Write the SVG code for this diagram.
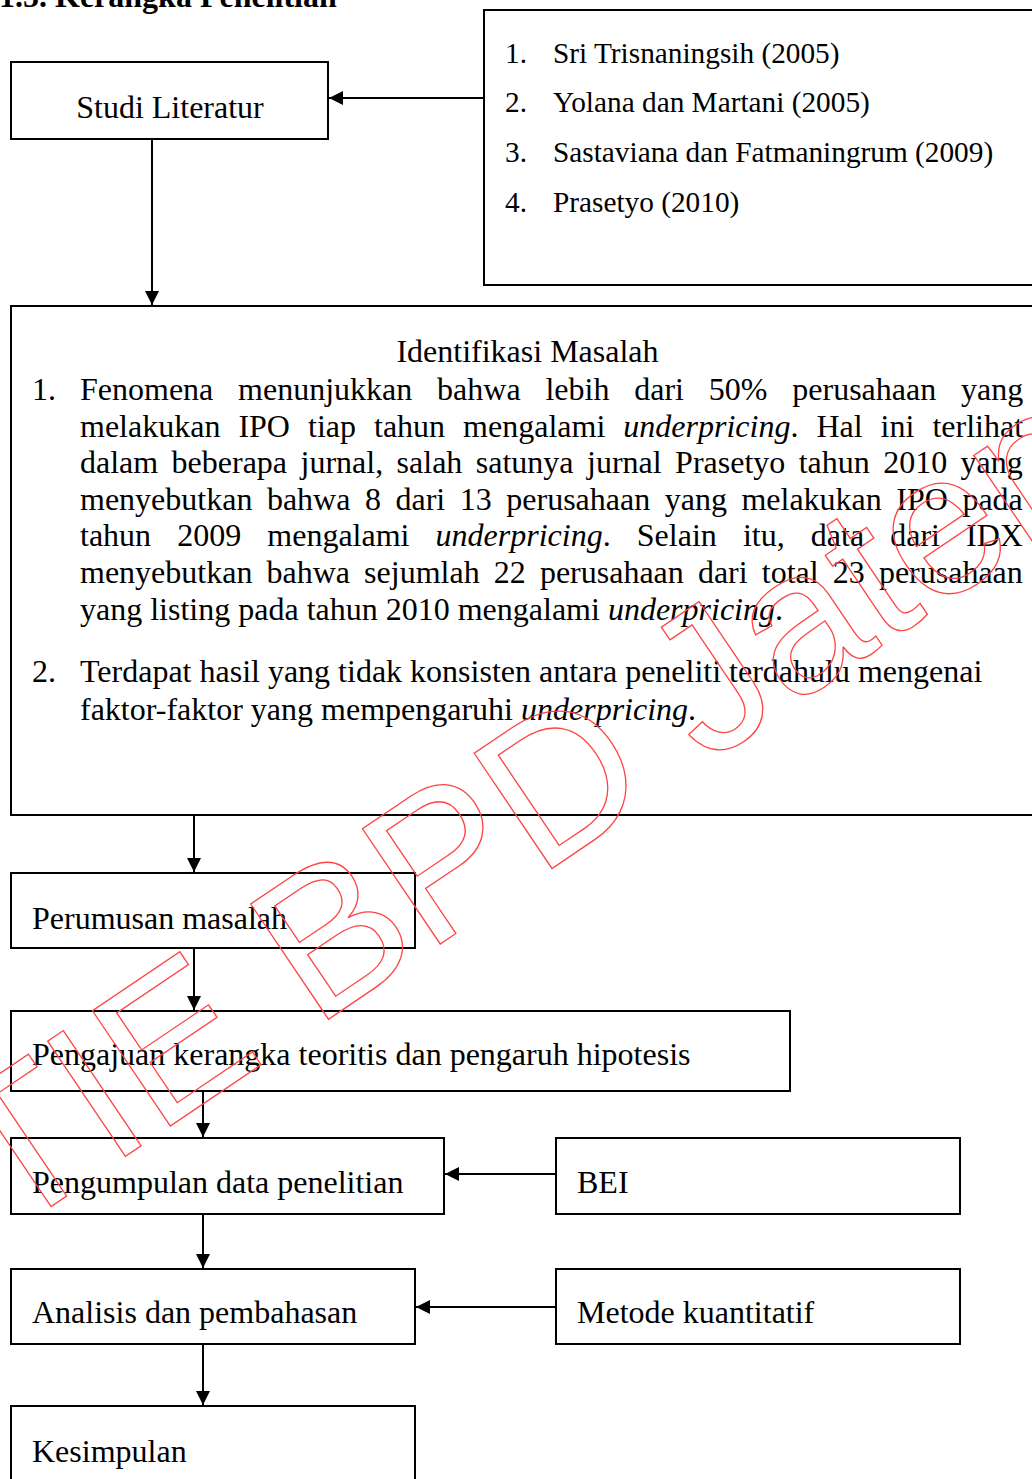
<svg xmlns="http://www.w3.org/2000/svg" width="1032" height="1479" viewBox="0 0 1032 1479">
<style>
.t{font-family:"Liberation Serif","Times New Roman",serif;font-size:32px;fill:#000}
.s{font-family:"Liberation Serif","Times New Roman",serif;font-size:29.3px;fill:#000}
.i{font-style:italic}
.box{fill:#fff;stroke:#000;stroke-width:2}
.c{fill:none;stroke:#000;stroke-width:2}
.wm{font-family:"Liberation Sans",Arial,sans-serif;font-size:202px;fill:none;stroke:#ff4444;stroke-width:1.3}
</style>
<defs>
<marker id="ah" markerUnits="userSpaceOnUse" markerWidth="14" markerHeight="14" viewBox="0 0 14 14" refX="14" refY="7" orient="auto">
<path d="M0,0 L14,7 L0,14 z" fill="#000"/>
</marker>
</defs>
<rect width="1032" height="1479" fill="#fff"/>
<text class="t" x="-1" y="7" font-weight="bold">1.5. Kerangka Penelitian</text>

<g id="studi-literatur">
<rect class="box" x="11" y="62" width="317" height="77"/>
<text class="t" x="170" y="118" text-anchor="middle">Studi Literatur</text>
</g>

<g id="referensi">
<rect class="box" x="484" y="10" width="600" height="275"/>
<text class="s" x="505" y="63">1.</text><text class="s" x="553" y="63">Sri Trisnaningsih (2005)</text>
<text class="s" x="505" y="112">2.</text><text class="s" x="553" y="112">Yolana dan Martani (2005)</text>
<text class="s" x="505" y="162">3.</text><text class="s" x="553" y="162">Sastaviana dan Fatmaningrum (2009)</text>
<text class="s" x="505" y="212">4.</text><text class="s" x="553" y="212">Prasetyo (2010)</text>
</g>

<g id="identifikasi-masalah">
<rect class="box" x="11" y="306" width="1080" height="509"/>
<text class="t" x="527.5" y="362" text-anchor="middle">Identifikasi Masalah</text>
<text class="t" x="32" y="400">1.</text>
<text class="t" y="400"><tspan x="80">Fenomena</tspan><tspan x="238.1">menunjukkan</tspan><tspan x="437.1">bahwa</tspan><tspan x="545.4">lebih</tspan><tspan x="634.2">dari</tspan><tspan x="708.8">50%</tspan><tspan x="792.3">perusahaan</tspan><tspan x="961">yang</tspan></text>
<text class="t" y="436.6"><tspan x="80">melakukan</tspan><tspan x="238.4">IPO</tspan><tspan x="308">tiap</tspan><tspan x="374">tahun</tspan><tspan x="463.1">mengalami</tspan><tspan x="623.3" class="i">underpricing</tspan><tspan>.</tspan><tspan x="816.4">Hal</tspan><tspan x="880.6">ini</tspan><tspan x="932.4">terlihat</tspan></text>
<text class="t" y="473.2"><tspan x="80">dalam</tspan><tspan x="171.6">beberapa</tspan><tspan x="300.5">jurnal,</tspan><tspan x="396.6">salah</tspan><tspan x="475.8">satunya</tspan><tspan x="587">jurnal</tspan><tspan x="675.1">Prasetyo</tspan><tspan x="798.7">tahun</tspan><tspan x="883.2">2010</tspan><tspan x="960.6">yang</tspan></text>
<text class="t" y="509.8"><tspan x="80">menyebutkan</tspan><tspan x="266.9">bahwa</tspan><tspan x="364.9">8</tspan><tspan x="395.5">dari</tspan><tspan x="459.8">13</tspan><tspan x="506.3">perusahaan</tspan><tspan x="664.7">yang</tspan><tspan x="741.4">melakukan</tspan><tspan x="896.3">IPO</tspan><tspan x="962.4">pada</tspan></text>
<text class="t" y="546.4"><tspan x="80">tahun</tspan><tspan x="177.2">2009</tspan><tspan x="267.3">mengalami</tspan><tspan x="435.6" class="i">underpricing</tspan><tspan>.</tspan><tspan x="636.8">Selain</tspan><tspan x="742.9">itu,</tspan><tspan x="810.8">data</tspan><tspan x="890.2">dari</tspan><tspan x="966.1">IDX</tspan></text>
<text class="t" y="583"><tspan x="80">menyebutkan</tspan><tspan x="266.5">bahwa</tspan><tspan x="364.1">sejumlah</tspan><tspan x="493.8">22</tspan><tspan x="539.9">perusahaan</tspan><tspan x="697.9">dari</tspan><tspan x="761.8">total</tspan><tspan x="832.8">23</tspan><tspan x="878.9">perusahaan</tspan></text>
<text class="t" x="80" y="619.6">yang listing pada tahun 2010 mengalami <tspan class="i">underpricing</tspan>.</text>
<text class="t" x="32" y="682">2.</text>
<text class="t" x="80" y="682">Terdapat hasil yang tidak konsisten antara peneliti terdahulu mengenai</text>
<text class="t" x="80" y="720">faktor-faktor yang mempengaruhi <tspan class="i">underpricing</tspan>.</text>
</g>

<g id="perumusan-masalah">
<rect class="box" x="11" y="873" width="404" height="75"/>
<text class="t" x="32" y="929">Perumusan masalah</text>
</g>

<g id="pengajuan-kerangka">
<rect class="box" x="11" y="1011" width="779" height="80"/>
<text class="t" x="32" y="1065">Pengajuan kerangka teoritis dan pengaruh hipotesis</text>
</g>

<g id="pengumpulan-data">
<rect class="box" x="11" y="1138" width="433" height="76"/>
<text class="t" x="32" y="1193">Pengumpulan data penelitian</text>
</g>

<g id="bei">
<rect class="box" x="556" y="1138" width="404" height="76"/>
<text class="t" x="577" y="1193">BEI</text>
</g>

<g id="analisis">
<rect class="box" x="11" y="1269" width="404" height="75"/>
<text class="t" x="32" y="1323">Analisis dan pembahasan</text>
</g>

<g id="metode">
<rect class="box" x="556" y="1269" width="404" height="75"/>
<text class="t" x="577" y="1323">Metode kuantitatif</text>
</g>

<g id="kesimpulan">
<rect class="box" x="11" y="1406" width="404" height="100"/>
<text class="t" x="32" y="1462">Kesimpulan</text>
</g>

<g id="connectors">
<path class="c" d="M484,98 H329" marker-end="url(#ah)"/>
<path class="c" d="M152,139 V305" marker-end="url(#ah)"/>
<path class="c" d="M194,815 V872" marker-end="url(#ah)"/>
<path class="c" d="M194,948 V1010" marker-end="url(#ah)"/>
<path class="c" d="M203,1091 V1137" marker-end="url(#ah)"/>
<path class="c" d="M556,1174 H445" marker-end="url(#ah)"/>
<path class="c" d="M203,1214 V1268" marker-end="url(#ah)"/>
<path class="c" d="M556,1307 H416" marker-end="url(#ah)"/>
<path class="c" d="M203,1344 V1405" marker-end="url(#ah)"/>
</g>

<text class="wm" transform="translate(-104,1311) rotate(-34)">STIE BPD Jateng</text>
</svg>
